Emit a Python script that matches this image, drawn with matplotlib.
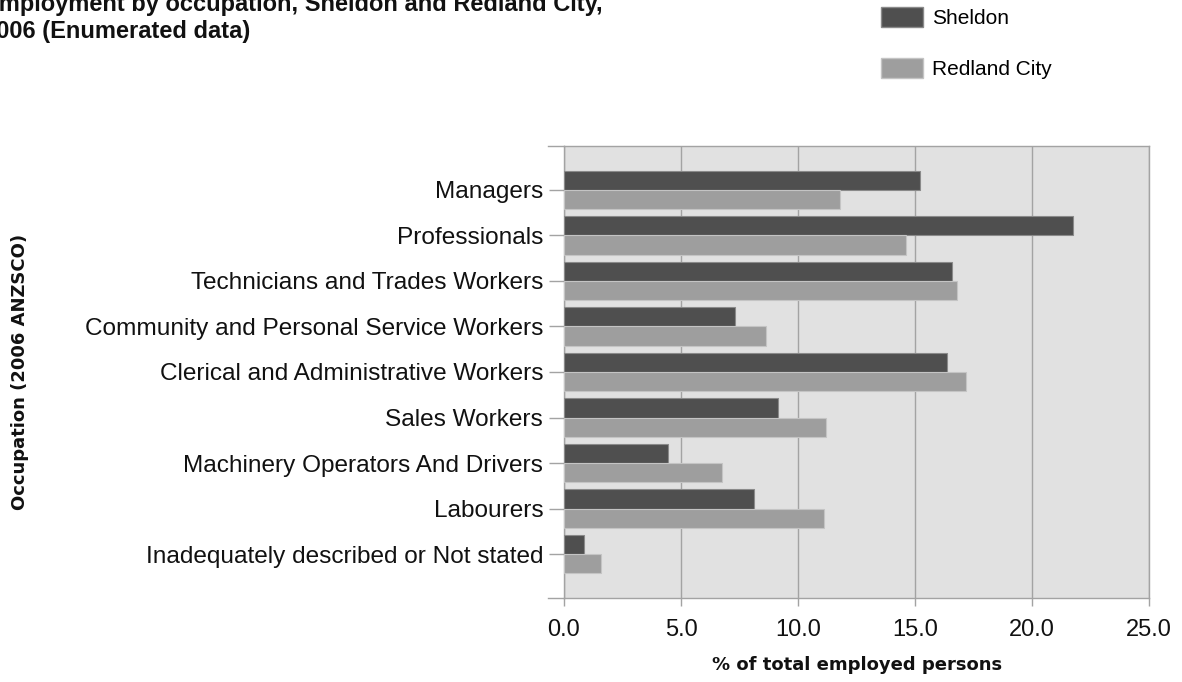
import matplotlib
matplotlib.use("Agg")
import matplotlib.pyplot as plt
from matplotlib.lines import Line2D
from matplotlib.patches import Patch
import numpy as np

plt.rcParams['font.family'] = ['Liberation Sans', 'DejaVu Sans']

categories = [
    "Managers",
    "Professionals",
    "Technicians and Trades Workers",
    "Community and Personal Service Workers",
    "Clerical and Administrative Workers",
    "Sales Workers",
    "Machinery Operators And Drivers",
    "Labourers",
    "Inadequately described or Not stated",
]
sheldon = [15.2, 21.75, 16.6, 7.3, 16.35, 9.15, 4.45, 8.1, 0.85]
redland = [11.8, 14.6, 16.8, 8.65, 17.2, 11.2, 6.75, 11.1, 1.6]
x_ticks = [0.0, 5.0, 10.0, 15.0, 20.0, 25.0]

dark = "#4f4f4f"
light = "#9e9e9e"
grid_col = "#a3a3a3"
text_col = "#111111"

W, H = 1182, 682
fig = plt.figure(figsize=(W / 100, H / 100), dpi=100)
ax = fig.add_axes([564 / W, 1 - 598 / H, (1149 - 564) / W, (598 - 146) / H])
ax.set_facecolor("#e1e1e1")

y = np.arange(len(categories))
h = 0.42
ax.barh(y - h / 2, sheldon, height=h, color=dark, edgecolor="#8a8a8a",
        linewidth=0.8, zorder=3)
ax.barh(y + h / 2, redland, height=h, color=light, edgecolor="#c4c4c4",
        linewidth=0.8, zorder=3)

ax.set_xlim(0, 25)
ax.set_ylim(8.967, -0.967)

ax.set_xticks(x_ticks)
ax.set_xticklabels([f"{v:.1f}" for v in x_ticks], fontsize=17, color=text_col)
ax.set_yticks(y)
ax.set_yticklabels(categories, fontsize=17.6, color=text_col)
ax.tick_params(axis="y", length=11, width=1, color=grid_col, pad=4)
ax.tick_params(axis="x", length=6, width=1, color=grid_col, pad=9)

ax.grid(axis="x", color=grid_col, linewidth=1, zorder=1)
for side in ["top", "bottom", "left", "right"]:
    ax.spines[side].set_color(grid_col)
    ax.spines[side].set_linewidth(1)

# top and bottom frame lines run out past the left spine
for yy in (0, 1):
    ax.add_line(Line2D([-0.028, 0], [yy, yy], transform=ax.transAxes,
                       color=grid_col, linewidth=1, clip_on=False))

fig.text(857 / W, 1 - 665 / H, "% of total employed persons", ha="center",
         va="center", fontsize=13, fontweight="bold", family="DejaVu Sans",
         color=text_col)
fig.text(20 / W, 1 - 372 / H, "Occupation (2006 ANZSCO)", ha="center",
         va="center", rotation=90, fontsize=13, fontweight="bold",
         family="DejaVu Sans", color=text_col)

fig.text(-17 / W, 1 - 38 / H,
         "Employment by occupation, Sheldon and Redland City,\n2006 (Enumerated data)",
         ha="left", va="baseline", fontsize=17, fontweight="bold",
         color=text_col, linespacing=1.2)

handles = [Patch(facecolor=dark, edgecolor="#8a8a8a", label="Sheldon"),
           Patch(facecolor=light, edgecolor="#c4c4c4", label="Redland City")]
fig.legend(handles=handles, loc="upper left", bbox_to_anchor=(873 / W, 1 + 1 / H),
           frameon=False, fontsize=15, handlelength=2.0, handleheight=1.05,
           labelspacing=1.45, handletextpad=0.45, borderaxespad=0)

fig.savefig("out.png", dpi=100)
